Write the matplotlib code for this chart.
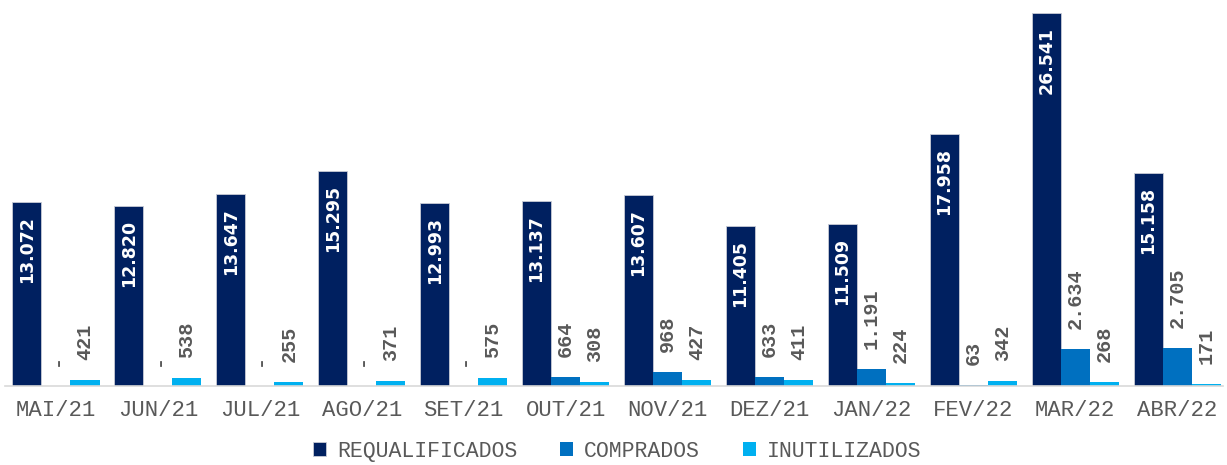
import matplotlib
matplotlib.use("Agg")
import matplotlib.pyplot as plt
import numpy as np

months = ["MAI/21", "JUN/21", "JUL/21", "AGO/21", "SET/21", "OUT/21",
          "NOV/21", "DEZ/21", "JAN/22", "FEV/22", "MAR/22", "ABR/22"]
requalificados = [13072, 12820, 13647, 15295, 12993, 13137, 13607, 11405, 11509, 17958, 26541, 15158]
comprados = [0, 0, 0, 0, 0, 664, 968, 633, 1191, 63, 2634, 2705]
inutilizados = [421, 538, 255, 371, 575, 308, 427, 411, 224, 342, 268, 171]
series_names = ["REQUALIFICADOS", "COMPRADOS", "INUTILIZADOS"]
colors = ["#002060", "#0070C0", "#00B0F0"]

def fmt(v):
    if v == 0:
        return "-"
    return f"{v:,}".replace(",", ".")

W, H = 1227, 465
fig = plt.figure(figsize=(W / 100, H / 100), dpi=100)
ax = fig.add_axes([5 / W, 79 / H, 1218 / W, 379.4 / H])

x = np.arange(len(months))
bw = 0.285
series = [requalificados, comprados, inutilizados]
for k, (vals, c, name) in enumerate(zip(series, colors, series_names)):
    ax.bar(x + (k - 1) * bw, vals, width=bw, color=c, label=name,
           edgecolor="#c8cbd6" if k == 0 else c, linewidth=0.6 if k == 0 else 0)

grey = "#595959"
for i in range(len(months)):
    ax.annotate(fmt(requalificados[i]), (x[i] - bw, requalificados[i]),
                xytext=(0, -14), textcoords="offset pixels", rotation=90,
                ha="center", va="top", color="white", fontsize=12.5,
                fontweight="bold", family="DejaVu Sans")
    for k, vals in ((1, comprados), (2, inutilizados)):
        ax.annotate(fmt(vals[i]), (x[i] + (k - 1) * bw, vals[i]),
                    xytext=(0, 20), textcoords="offset pixels", rotation=90,
                    ha="center", va="bottom", color=grey, fontsize=14.5,
                    fontweight="bold", family="Liberation Mono")

ax.set_xlim(-0.5, 11.45)
ax.set_ylim(0, 27000)
ax.set_xticks(x)
ax.set_xticklabels(months, family="Liberation Mono", fontsize=16, color=grey)
ax.tick_params(axis="x", length=0, pad=10)
ax.set_yticks([])
for s in ["top", "right", "left"]:
    ax.spines[s].set_visible(False)
ax.spines["bottom"].set_color("#d9d9d9")
ax.spines["bottom"].set_linewidth(1.2)

leg = fig.legend(loc="lower center", bbox_to_anchor=(0.503, -0.035), ncol=3,
                 frameon=False, handlelength=0.6, handleheight=0.6,
                 handletextpad=0.5, columnspacing=2.0,
                 prop={"family": "Liberation Mono", "size": 15.5})
for t in leg.get_texts():
    t.set_color(grey)

fig.savefig("out.png", dpi=100)
